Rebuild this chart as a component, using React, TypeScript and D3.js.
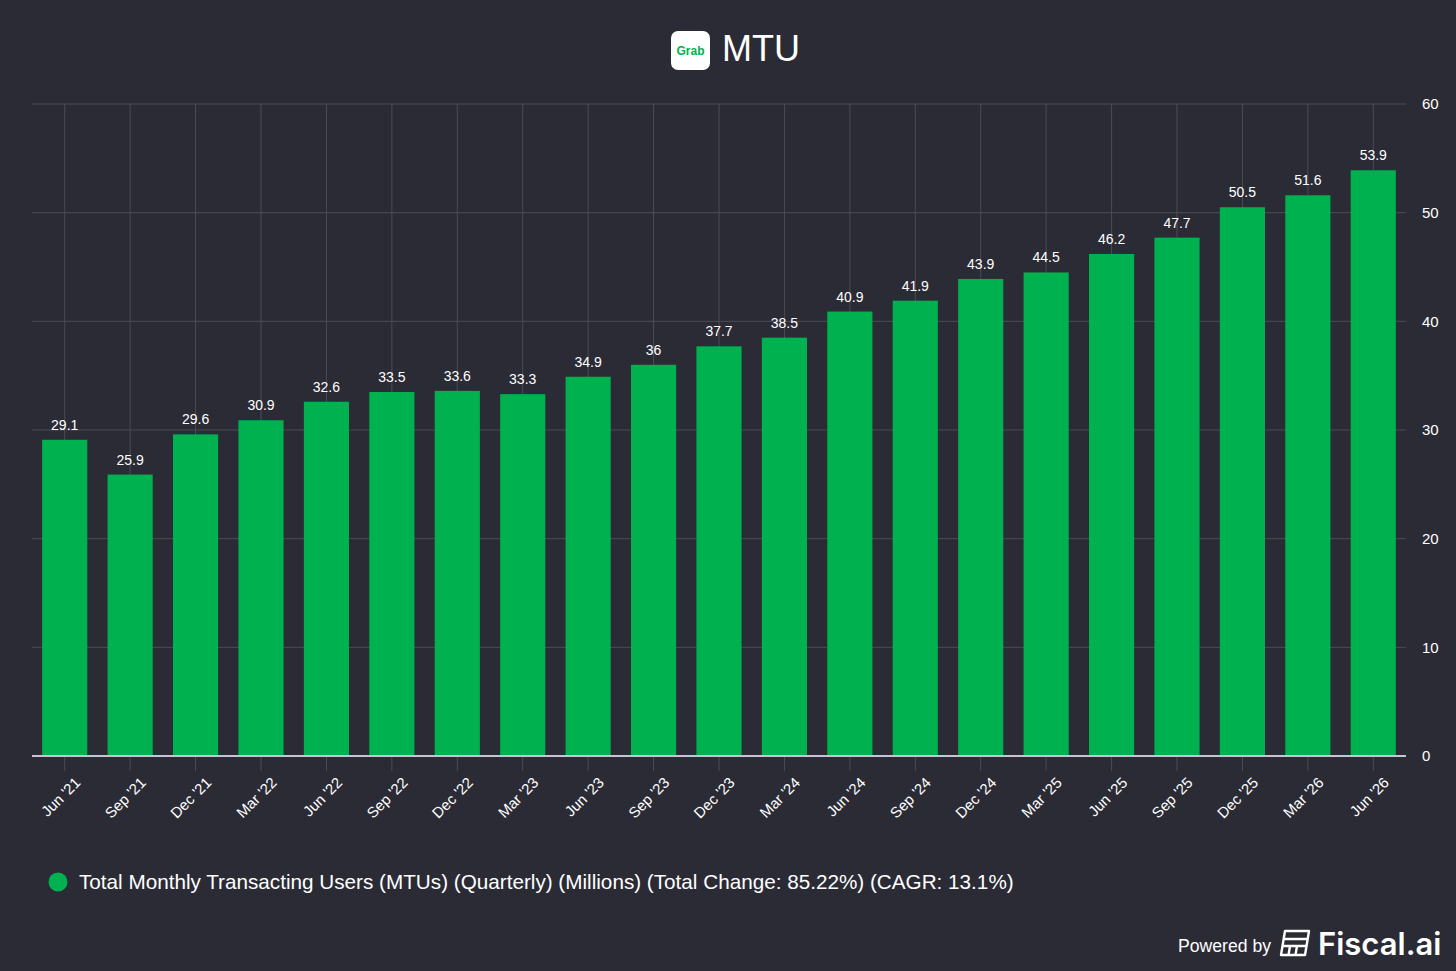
import React, { useEffect, useRef } from "react";
import * as d3 from "d3";

const quarters = [
  "Jun '21", "Sep '21", "Dec '21", "Mar '22", "Jun '22", "Sep '22", "Dec '22",
  "Mar '23", "Jun '23", "Sep '23", "Dec '23", "Mar '24", "Jun '24", "Sep '24",
  "Dec '24", "Mar '25", "Jun '25", "Sep '25", "Dec '25", "Mar '26", "Jun '26",
];
const mtuValues = [
  29.1, 25.9, 29.6, 30.9, 32.6, 33.5, 33.6, 33.3, 34.9, 36, 37.7, 38.5, 40.9,
  41.9, 43.9, 44.5, 46.2, 47.7, 50.5, 51.6, 53.9,
];
const yTicks = [0, 10, 20, 30, 40, 50, 60];

const WIDTH = 1456;
const HEIGHT = 971;
const BG = "#2b2b35";
const GREEN = "#00b14f";
const FONT = "'Liberation Sans', Arial, Helvetica, sans-serif";

function App() {
  const svgRef = useRef<SVGSVGElement>(null);

  useEffect(() => {
    if (!svgRef.current) return;
    const svg = d3.select(svgRef.current);
    svg.selectAll("*").remove();

    const plot = { left: 32, right: 1406, top: 104, bottom: 756 };

    svg.append("rect").attr("width", WIDTH).attr("height", HEIGHT).attr("fill", BG);

    const x = d3
      .scaleBand<string>()
      .domain(quarters)
      .range([plot.left, plot.right])
      .paddingInner(0.31)
      .paddingOuter(0.155);

    const y = d3.scaleLinear().domain([0, 60]).range([plot.bottom, plot.top]);

    // horizontal grid
    svg
      .append("g")
      .selectAll("line")
      .data(yTicks.filter((t) => t > 0))
      .enter()
      .append("line")
      .attr("x1", plot.left)
      .attr("x2", plot.right)
      .attr("y1", (d) => y(d))
      .attr("y2", (d) => y(d))
      .attr("stroke", "#4c4c57")
      .attr("stroke-width", 1);

    // vertical grid at band centres
    svg
      .append("g")
      .selectAll("line")
      .data(quarters)
      .enter()
      .append("line")
      .attr("x1", (d) => x(d)! + x.bandwidth() / 2)
      .attr("x2", (d) => x(d)! + x.bandwidth() / 2)
      .attr("y1", plot.top)
      .attr("y2", plot.bottom)
      .attr("stroke", "#4c4c57")
      .attr("stroke-width", 1);

    // bars
    svg
      .append("g")
      .selectAll("rect")
      .data(mtuValues)
      .enter()
      .append("rect")
      .attr("x", (_, i) => x(quarters[i])!)
      .attr("width", x.bandwidth())
      .attr("y", (d) => y(d))
      .attr("height", (d) => plot.bottom - y(d))
      .attr("fill", GREEN);

    // value labels
    svg
      .append("g")
      .selectAll("text")
      .data(mtuValues)
      .enter()
      .append("text")
      .attr("x", (_, i) => x(quarters[i])! + x.bandwidth() / 2)
      .attr("y", (d) => y(d) - 10)
      .attr("text-anchor", "middle")
      .attr("fill", "#ffffff")
      .style("font-family", FONT)
      .style("font-size", "14px")
      .text((d) => String(d));

    // x axis line
    svg
      .append("line")
      .attr("x1", plot.left)
      .attr("x2", plot.right)
      .attr("y1", plot.bottom)
      .attr("y2", plot.bottom)
      .attr("stroke", "#c8c4d4")
      .attr("stroke-width", 2);

    // x ticks + labels
    const xg = svg.append("g");
    quarters.forEach((q) => {
      const cx = x(q)! + x.bandwidth() / 2;
      xg.append("line")
        .attr("x1", cx)
        .attr("x2", cx)
        .attr("y1", plot.bottom + 1)
        .attr("y2", plot.bottom + 15)
        .attr("stroke", "#4c4c57");
      xg.append("text")
        .attr("transform", `translate(${cx + 13}, ${plot.bottom + 24}) rotate(-45)`)
        .attr("text-anchor", "end")
        .attr("dy", "0.35em")
        .attr("fill", "#ffffff")
        .style("font-family", FONT)
        .style("font-size", "15px")
        .text(q);
    });

    // y axis labels on right
    svg
      .append("g")
      .selectAll("text")
      .data(yTicks)
      .enter()
      .append("text")
      .attr("x", 1422)
      .attr("y", (d) => y(d))
      .attr("dy", "0.35em")
      .attr("fill", "#ffffff")
      .style("font-family", FONT)
      .style("font-size", "15px")
      .text((d) => String(d));

    // title with logo
    const title = svg.append("g");
    title
      .append("rect")
      .attr("x", 671)
      .attr("y", 31)
      .attr("width", 39)
      .attr("height", 39)
      .attr("rx", 7)
      .attr("fill", "#ffffff");
    title
      .append("text")
      .attr("x", 690.5)
      .attr("y", 55)
      .attr("text-anchor", "middle")
      .attr("fill", GREEN)
      .style("font-family", FONT)
      .style("font-weight", "700")
      .style("font-size", "12px")
      .text("Grab");
    title
      .append("text")
      .attr("x", 722)
      .attr("y", 61)
      .attr("fill", "#ffffff")
      .style("font-family", FONT)
      .style("font-size", "36px")
      .text("MTU");

    // legend
    svg
      .append("circle")
      .attr("cx", 58)
      .attr("cy", 882)
      .attr("r", 9.5)
      .attr("fill", GREEN);
    svg
      .append("text")
      .attr("x", 79)
      .attr("y", 889)
      .attr("fill", "#ffffff")
      .style("font-family", FONT)
      .style("font-size", "20.7px")
      .text(
        "Total Monthly Transacting Users (MTUs) (Quarterly) (Millions) (Total Change: 85.22%) (CAGR: 13.1%)"
      );

    // footer
    const footer = svg.append("g");
    footer
      .append("text")
      .attr("x", 1271)
      .attr("y", 952)
      .attr("text-anchor", "end")
      .attr("fill", "#ffffff")
      .style("font-family", FONT)
      .style("font-size", "17.6px")
      .text("Powered by");
    // fiscal.ai icon
    const icon = footer.append("g").attr("transform", "translate(1281, 931)");
    icon
      .append("path")
      .attr("d", "M4,0 H28 L24,24 H0 Z")
      .attr("fill", "none")
      .attr("stroke", "#ffffff")
      .attr("stroke-width", 2.4)
      .attr("stroke-linejoin", "round");
    icon
      .append("path")
      .attr("d", "M3,8 H27 M2,15 H26 M9,15 L7.5,24 M16,15 L14.5,24")
      .attr("stroke", "#ffffff")
      .attr("stroke-width", 2.4);
    footer
      .append("text")
      .attr("x", 1318)
      .attr("y", 955)
      .attr("fill", "#ffffff")
      .style("font-family", "Inter, Roboto, sans-serif")
      .style("font-weight", "600")
      .style("font-size", "31px")
      .text("Fiscal.ai");
  }, []);

  return (
    <div style={{ position: "absolute", left: 0, top: 0, width: WIDTH, height: HEIGHT }}>
      <svg ref={svgRef} width={WIDTH} height={HEIGHT} style={{ display: "block" }}></svg>
    </div>
  );
}

export default App;
